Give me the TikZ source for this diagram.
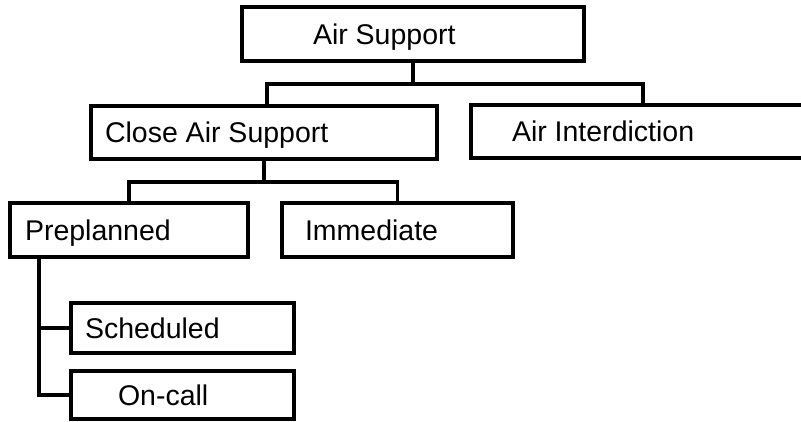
\documentclass[tikz,border=0pt]{standalone}
\usepackage{fontspec}
\setmainfont{Liberation Sans}
\newcommand{\lbox}[2]{\makebox[#1pt][l]{#2}}
\begin{document}
\begin{tikzpicture}[x=1pt,y=-1pt,
  line width=3.2pt,
  box/.style={draw, line width=3.2pt, rectangle, anchor=north west,
    font=\fontsize{28.5}{34}\selectfont, text height=20.4pt, text depth=0pt,
    inner ysep=0pt, outer sep=0pt},
]
\useasboundingbox (0,0) rectangle (801,421);
\node[box, minimum width=342, minimum height=54, inner xsep=71] (as) at (242,7) {\lbox{200}{Air Support}};
\node[box, minimum width=346, minimum height=53, inner xsep=14] (cas) at (91,106) {\lbox{318}{Close Air Support}};
\node[box, minimum width=334, minimum height=53, inner xsep=41] (ai) at (471,105) {\lbox{252}{Air Interdiction}};
\node[box, minimum width=238, minimum height=54, inner xsep=15] (pre) at (10,203) {\lbox{208}{Preplanned}};
\node[box, minimum width=231, minimum height=54, inner xsep=23] (imm) at (282,203) {\lbox{185}{Immediate}};
\node[box, minimum width=223, minimum height=50, inner xsep=14] (sch) at (71,303) {\lbox{195}{Scheduled}};
\node[box, minimum width=223, minimum height=48, inner xsep=47] (onc) at (71,371) {\lbox{129}{On-call}};
% connectors
\coordinate (b1) at (267,84);
\coordinate (b2) at (643,84);
\draw (as.south) -- (as.south |- b1);
\draw (b1 |- cas.north) -- (b1) -- (b2) -- (b2 |- ai.north);
\coordinate (b3) at (264,182);
\draw (cas.south) -- (b3);
\draw (pre.north) |- (b3) -| (imm.north);
\coordinate (p) at (39,0);
\draw (p |- pre.south) |- (onc.west);
\draw (p |- sch.west) -- (sch.west);
\end{tikzpicture}
\end{document}
